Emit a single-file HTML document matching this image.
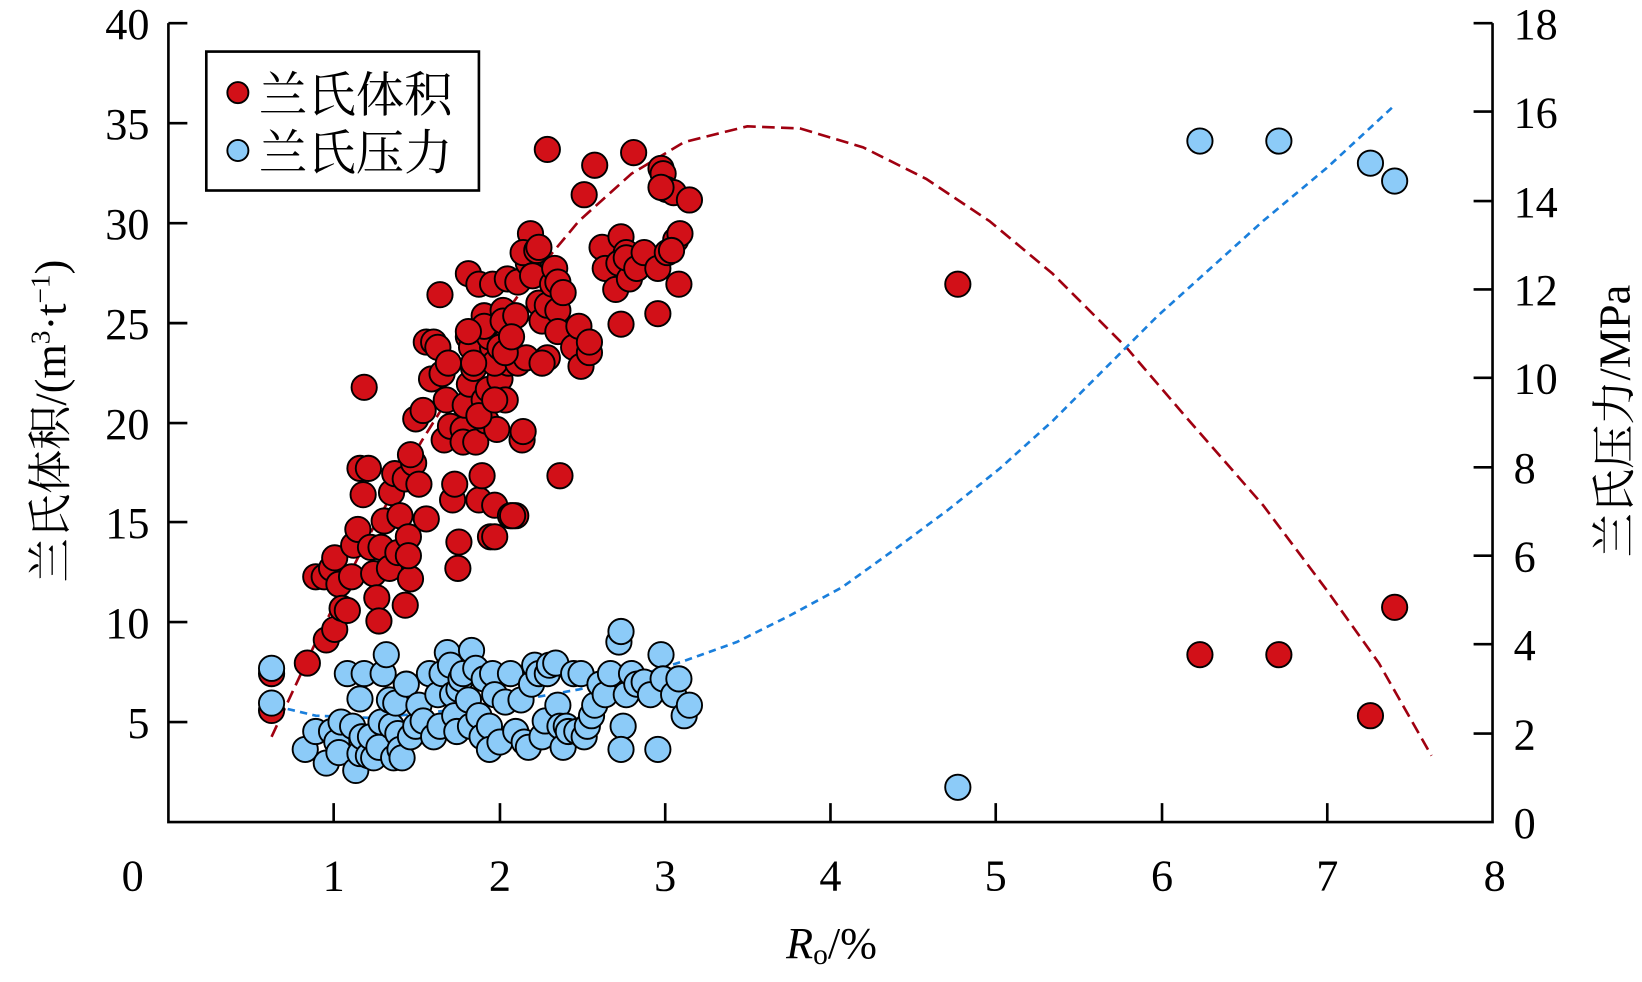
<!DOCTYPE html>
<html><head><meta charset="utf-8"><style>html,body{margin:0;padding:0;background:#fff;width:1642px;height:982px;overflow:hidden}svg{display:block}</style></head>
<body>
<svg width="1642" height="982" viewBox="0 0 1560 933" preserveAspectRatio="none" xmlns="http://www.w3.org/2000/svg" font-family="Liberation Serif, serif">
<polyline points="258,700 300,610 350,510 400,420 450,340 500,270 550,210 600,165 650,135 710,120 760,122 820,140 880,170 940,210 1000,260 1070,330 1130,400 1200,480 1260,560 1310,630 1360,718" fill="none" stroke="#a00010" stroke-width="2.5" stroke-dasharray="12,6"/>
<polyline points="250,668 300,680 350,682 400,678 450,672 500,664 550,655 600,644 650,628 700,610 750,585 800,558 850,522 900,485 950,445 1000,400 1050,350 1100,300 1150,255 1200,210 1260,160 1325,100" fill="none" stroke="#1a7fdc" stroke-width="2.5" stroke-dasharray="7,5"/>
<g fill="#d21018" stroke="#000" stroke-width="1.8">
<circle cx="258" cy="675" r="12"/><circle cx="258" cy="640" r="12"/><circle cx="292" cy="630" r="12"/><circle cx="310" cy="608" r="12"/><circle cx="318" cy="598" r="12"/><circle cx="300" cy="548" r="12"/><circle cx="308" cy="548" r="12"/><circle cx="315" cy="540" r="12"/><circle cx="318" cy="530" r="12"/><circle cx="322" cy="555" r="12"/><circle cx="325" cy="578" r="12"/><circle cx="330" cy="580" r="12"/><circle cx="334" cy="548" r="12"/><circle cx="336" cy="518" r="12"/><circle cx="340" cy="503" r="12"/><circle cx="345" cy="470" r="12"/><circle cx="342" cy="445" r="12"/><circle cx="350" cy="445" r="12"/><circle cx="346" cy="368" r="12"/><circle cx="352" cy="520" r="12"/><circle cx="355" cy="545" r="12"/><circle cx="358" cy="568" r="12"/><circle cx="360" cy="590" r="12"/><circle cx="362" cy="520" r="12"/><circle cx="365" cy="495" r="12"/><circle cx="370" cy="540" r="12"/><circle cx="372" cy="468" r="12"/><circle cx="375" cy="450" r="12"/><circle cx="378" cy="525" r="12"/><circle cx="380" cy="490" r="12"/><circle cx="385" cy="455" r="12"/><circle cx="388" cy="510" r="12"/><circle cx="390" cy="550" r="12"/><circle cx="385" cy="575" r="12"/><circle cx="388" cy="528" r="12"/><circle cx="393" cy="440" r="12"/><circle cx="390" cy="432" r="12"/><circle cx="395" cy="398" r="12"/><circle cx="398" cy="460" r="12"/><circle cx="402" cy="390" r="12"/><circle cx="405" cy="493" r="12"/><circle cx="410" cy="360" r="12"/><circle cx="405" cy="325" r="12"/><circle cx="412" cy="325" r="12"/><circle cx="416" cy="330" r="12"/><circle cx="420" cy="355" r="12"/><circle cx="418" cy="280" r="12"/><circle cx="422" cy="418" r="12"/><circle cx="424" cy="380" r="12"/><circle cx="426" cy="345" r="12"/><circle cx="428" cy="405" r="12"/><circle cx="430" cy="475" r="12"/><circle cx="432" cy="460" r="12"/><circle cx="435" cy="540" r="12"/><circle cx="436" cy="515" r="12"/><circle cx="440" cy="408" r="12"/><circle cx="442" cy="385" r="12"/><circle cx="440" cy="420" r="12"/><circle cx="445" cy="320" r="12"/><circle cx="446" cy="365" r="12"/><circle cx="448" cy="330" r="12"/><circle cx="450" cy="350" r="12"/><circle cx="452" cy="420" r="12"/><circle cx="455" cy="475" r="12"/><circle cx="458" cy="452" r="12"/><circle cx="460" cy="380" r="12"/><circle cx="462" cy="400" r="12"/><circle cx="464" cy="370" r="12"/><circle cx="466" cy="510" r="12"/><circle cx="468" cy="330" r="12"/><circle cx="470" cy="510" r="12"/><circle cx="470" cy="480" r="12"/><circle cx="472" cy="408" r="12"/><circle cx="475" cy="360" r="12"/><circle cx="478" cy="318" r="12"/><circle cx="480" cy="380" r="12"/><circle cx="483" cy="345" r="12"/><circle cx="485" cy="490" r="12"/><circle cx="445" cy="260" r="12"/><circle cx="455" cy="270" r="12"/><circle cx="460" cy="300" r="12"/><circle cx="465" cy="320" r="12"/><circle cx="470" cy="345" r="12"/><circle cx="478" cy="295" r="12"/><circle cx="480" cy="325" r="12"/><circle cx="468" cy="270" r="12"/><circle cx="460" cy="310" r="12"/><circle cx="445" cy="315" r="12"/><circle cx="450" cy="345" r="12"/><circle cx="455" cy="395" r="12"/><circle cx="470" cy="380" r="12"/><circle cx="475" cy="330" r="12"/><circle cx="478" cy="305" r="12"/><circle cx="482" cy="265" r="12"/><circle cx="490" cy="300" r="12"/><circle cx="492" cy="345" r="12"/><circle cx="496" cy="418" r="12"/><circle cx="497" cy="410" r="12"/><circle cx="490" cy="490" r="12"/><circle cx="492" cy="268" r="12"/><circle cx="500" cy="340" r="12"/><circle cx="502" cy="250" r="12"/><circle cx="504" cy="222" r="12"/><circle cx="480" cy="335" r="12"/><circle cx="486" cy="320" r="12"/><circle cx="487" cy="490" r="12"/><circle cx="497" cy="240" r="12"/><circle cx="506" cy="262" r="12"/><circle cx="510" cy="238" r="12"/><circle cx="512" cy="288" r="12"/><circle cx="515" cy="305" r="12"/><circle cx="520" cy="340" r="12"/><circle cx="515" cy="345" r="12"/><circle cx="520" cy="290" r="12"/><circle cx="532" cy="452" r="12"/><circle cx="512" cy="235" r="12"/><circle cx="530" cy="295" r="12"/><circle cx="525" cy="270" r="12"/><circle cx="527" cy="255" r="12"/><circle cx="530" cy="268" r="12"/><circle cx="535" cy="278" r="12"/><circle cx="530" cy="315" r="12"/><circle cx="545" cy="330" r="12"/><circle cx="552" cy="348" r="12"/><circle cx="550" cy="310" r="12"/><circle cx="555" cy="185" r="12"/><circle cx="520" cy="142" r="12"/><circle cx="565" cy="157" r="12"/><circle cx="560" cy="335" r="12"/><circle cx="560" cy="325" r="12"/><circle cx="572" cy="235" r="12"/><circle cx="575" cy="255" r="12"/><circle cx="585" cy="275" r="12"/><circle cx="590" cy="225" r="12"/><circle cx="595" cy="240" r="12"/><circle cx="602" cy="145" r="12"/><circle cx="604" cy="249" r="12"/><circle cx="590" cy="308" r="12"/><circle cx="588" cy="250" r="12"/><circle cx="598" cy="265" r="12"/><circle cx="620" cy="250" r="12"/><circle cx="625" cy="298" r="12"/><circle cx="628" cy="160" r="12"/><circle cx="630" cy="165" r="12"/><circle cx="633" cy="180" r="12"/><circle cx="640" cy="183" r="12"/><circle cx="628" cy="178" r="12"/><circle cx="642" cy="228" r="12"/><circle cx="645" cy="270" r="12"/><circle cx="646" cy="222" r="12"/><circle cx="655" cy="190" r="12"/><circle cx="595" cy="245" r="12"/><circle cx="605" cy="255" r="12"/><circle cx="612" cy="240" r="12"/><circle cx="625" cy="255" r="12"/><circle cx="634" cy="240" r="12"/><circle cx="638" cy="238" r="12"/><circle cx="910" cy="270" r="12"/><circle cx="1140" cy="622" r="12"/><circle cx="1215" cy="622" r="12"/><circle cx="1302" cy="680" r="12"/><circle cx="1325" cy="577" r="12"/>
</g>
<g fill="#8ccbf8" stroke="#000" stroke-width="1.8">
<circle cx="258" cy="635" r="12"/><circle cx="258" cy="668" r="12"/><circle cx="290" cy="712" r="12"/><circle cx="300" cy="695" r="12"/><circle cx="310" cy="725" r="12"/><circle cx="315" cy="695" r="12"/><circle cx="320" cy="705" r="12"/><circle cx="322" cy="715" r="12"/><circle cx="324" cy="686" r="12"/><circle cx="330" cy="640" r="12"/><circle cx="335" cy="690" r="12"/><circle cx="338" cy="732" r="12"/><circle cx="342" cy="716" r="12"/><circle cx="342" cy="664" r="12"/><circle cx="344" cy="700" r="12"/><circle cx="346" cy="640" r="12"/><circle cx="350" cy="718" r="12"/><circle cx="352" cy="700" r="12"/><circle cx="355" cy="720" r="12"/><circle cx="360" cy="710" r="12"/><circle cx="362" cy="686" r="12"/><circle cx="364" cy="640" r="12"/><circle cx="367" cy="622" r="12"/><circle cx="370" cy="665" r="12"/><circle cx="372" cy="690" r="12"/><circle cx="374" cy="720" r="12"/><circle cx="376" cy="668" r="12"/><circle cx="378" cy="697" r="12"/><circle cx="380" cy="712" r="12"/><circle cx="382" cy="720" r="12"/><circle cx="386" cy="650" r="12"/><circle cx="390" cy="700" r="12"/><circle cx="395" cy="690" r="12"/><circle cx="398" cy="670" r="12"/><circle cx="402" cy="685" r="12"/><circle cx="408" cy="640" r="12"/><circle cx="412" cy="700" r="12"/><circle cx="416" cy="660" r="12"/><circle cx="418" cy="690" r="12"/><circle cx="420" cy="640" r="12"/><circle cx="425" cy="620" r="12"/><circle cx="428" cy="632" r="12"/><circle cx="430" cy="660" r="12"/><circle cx="432" cy="680" r="12"/><circle cx="434" cy="695" r="12"/><circle cx="436" cy="655" r="12"/><circle cx="438" cy="645" r="12"/><circle cx="440" cy="640" r="12"/><circle cx="445" cy="665" r="12"/><circle cx="447" cy="690" r="12"/><circle cx="448" cy="618" r="12"/><circle cx="452" cy="635" r="12"/><circle cx="455" cy="680" r="12"/><circle cx="458" cy="700" r="12"/><circle cx="460" cy="645" r="12"/><circle cx="465" cy="690" r="12"/><circle cx="465" cy="712" r="12"/><circle cx="468" cy="640" r="12"/><circle cx="470" cy="660" r="12"/><circle cx="475" cy="705" r="12"/><circle cx="480" cy="667" r="12"/><circle cx="485" cy="640" r="12"/><circle cx="490" cy="695" r="12"/><circle cx="495" cy="665" r="12"/><circle cx="498" cy="705" r="12"/><circle cx="502" cy="710" r="12"/><circle cx="505" cy="650" r="12"/><circle cx="508" cy="632" r="12"/><circle cx="512" cy="640" r="12"/><circle cx="515" cy="700" r="12"/><circle cx="518" cy="685" r="12"/><circle cx="520" cy="640" r="12"/><circle cx="522" cy="632" r="12"/><circle cx="528" cy="630" r="12"/><circle cx="530" cy="670" r="12"/><circle cx="532" cy="690" r="12"/><circle cx="535" cy="710" r="12"/><circle cx="538" cy="690" r="12"/><circle cx="540" cy="695" r="12"/><circle cx="545" cy="640" r="12"/><circle cx="548" cy="695" r="12"/><circle cx="552" cy="640" r="12"/><circle cx="555" cy="700" r="12"/><circle cx="558" cy="690" r="12"/><circle cx="562" cy="680" r="12"/><circle cx="565" cy="670" r="12"/><circle cx="570" cy="650" r="12"/><circle cx="575" cy="660" r="12"/><circle cx="580" cy="640" r="12"/><circle cx="588" cy="610" r="12"/><circle cx="590" cy="600" r="12"/><circle cx="592" cy="690" r="12"/><circle cx="590" cy="712" r="12"/><circle cx="595" cy="660" r="12"/><circle cx="600" cy="640" r="12"/><circle cx="605" cy="650" r="12"/><circle cx="612" cy="648" r="12"/><circle cx="618" cy="660" r="12"/><circle cx="625" cy="712" r="12"/><circle cx="628" cy="622" r="12"/><circle cx="630" cy="645" r="12"/><circle cx="640" cy="660" r="12"/><circle cx="645" cy="645" r="12"/><circle cx="650" cy="680" r="12"/><circle cx="655" cy="670" r="12"/><circle cx="910" cy="748" r="12"/><circle cx="1140" cy="134" r="12"/><circle cx="1215" cy="134" r="12"/><circle cx="1302" cy="155" r="12"/><circle cx="1325" cy="172" r="12"/>
</g>
<g stroke="#000" stroke-width="2.5" fill="none">
<path d="M160,22 V781 H1418 V22"/>
<path d="M160,22h18M160,117h18M160,212h18M160,307h18M160,402h18M160,496h18M160,591h18M160,686h18"/>
<path d="M1418,106h-18M1418,191h-18M1418,275h-18M1418,359h-18M1418,444h-18M1418,528h-18M1418,612h-18M1418,697h-18M1418,22h-18"/>
<path d="M317,781v-18M475,781v-18M632,781v-18M789,781v-18M946,781v-18M1104,781v-18M1261,781v-18"/>
</g>
<g font-size="42" fill="#000" text-anchor="end">
<text x="142" y="37">40</text><text x="142" y="132">35</text><text x="142" y="227">30</text><text x="142" y="322">25</text><text x="142" y="417">20</text><text x="142" y="511">15</text><text x="142" y="606">10</text><text x="142" y="701">5</text>
</g>
<g font-size="42" fill="#000">
<text x="1438" y="37">18</text><text x="1438" y="121">16</text><text x="1438" y="206">14</text><text x="1438" y="290">12</text><text x="1438" y="374">10</text><text x="1438" y="459">8</text><text x="1438" y="543">6</text><text x="1438" y="627">4</text><text x="1438" y="712">2</text><text x="1438" y="796">0</text>
</g>
<g font-size="42" fill="#000" text-anchor="middle">
<text x="126" y="846">0</text><text x="317" y="846">1</text><text x="475" y="846">2</text><text x="632" y="846">3</text><text x="789" y="846">4</text><text x="946" y="846">5</text><text x="1104" y="846">6</text><text x="1261" y="846">7</text><text x="1420" y="846">8</text>
<text x="790" y="910"><tspan font-style="italic">R</tspan><tspan font-size="28" dy="6">o</tspan><tspan dy="-6">/%</tspan></text>
</g>
<text transform="translate(62,400) rotate(-90)" text-anchor="middle" font-size="42" font-family="Liberation Serif, Noto Serif CJK SC, serif">兰氏体积/(m<tspan font-size="26" dy="-15">3</tspan><tspan dy="15">·t</tspan><tspan font-size="26" dy="-15">−1</tspan><tspan dy="15">)</tspan></text>
<text transform="translate(1548,400) rotate(-90)" text-anchor="middle" font-size="42" font-family="Liberation Serif, Noto Serif CJK SC, serif">兰氏压力/MPa</text>
<rect x="196" y="49" width="259" height="132" fill="#fff" stroke="#000" stroke-width="2.5"/>
<circle cx="226" cy="88" r="10" fill="#d21018" stroke="#000" stroke-width="1.8"/>
<circle cx="226" cy="143" r="10" fill="#8ccbf8" stroke="#000" stroke-width="1.8"/>
<g font-size="46" font-family="Noto Serif CJK SC, serif"><text x="246" y="106">兰氏体积</text><text x="246" y="161">兰氏压力</text></g>
</svg>
</body></html>
